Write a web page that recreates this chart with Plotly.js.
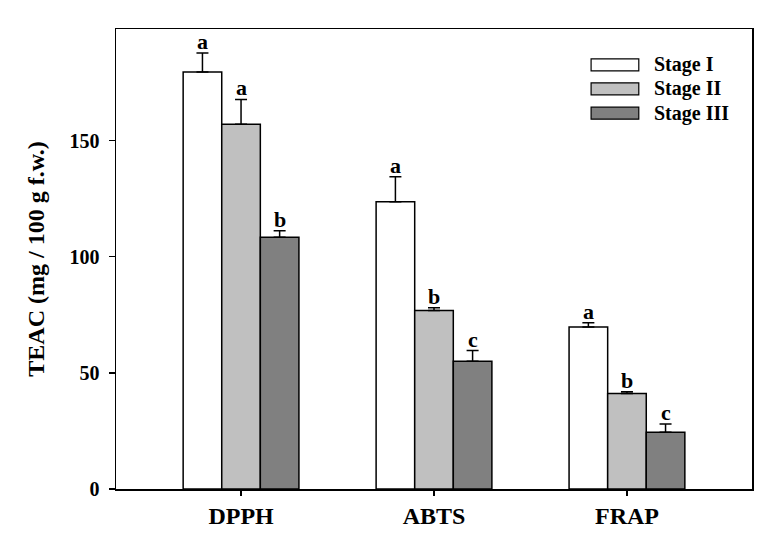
<!DOCTYPE html>
<html>
<head>
<meta charset="utf-8">
<script src="https://cdn.plot.ly/plotly-3.0.1.min.js"></script>
<style>
  html, body { margin: 0; padding: 0; background: #ffffff; }
  #chart { width: 782px; height: 535px; }
</style>
</head>
<body>
<div id="chart"></div>
<script>
  const categories = ["DPPH", "ABTS", "FRAP"];
  const stageNames = ["Stage I", "Stage II", "Stage III"];

  const stage1 = [179.5, 123.6, 69.7];
  const stage2 = [157.0, 76.8, 41.1];
  const stage3 = [108.4, 55.0, 24.4];

  const err1 = [8.2, 10.8, 1.9];
  const err2 = [10.7, 1.2, 0.8];
  const err3 = [2.8, 4.6, 3.6];

  const letters1 = ["a", "a", "a"];
  const letters2 = ["a", "b", "b"];
  const letters3 = ["b", "c", "c"];

  const fills = ["#ffffff", "#c0c0c0", "#808080"];
  const FONT = "Liberation Serif, Times New Roman, serif";

  const values = [stage1, stage2, stage3];
  const errors = [err1, err2, err3];
  const letters = [letters1, letters2, letters3];
  const xIdx = categories.map(function (c, i) { return i; });

  const traces = values.map(function (vals, s) {
    return {
      type: "bar",
      name: stageNames[s],
      x: xIdx,
      y: vals,
      marker: { color: fills[s], line: { color: "#000000", width: 1.5 } },
      error_y: {
        type: "data",
        symmetric: false,
        array: errors[s],
        arrayminus: vals.map(function () { return 0; }),
        color: "#000000",
        thickness: 1.5,
        width: 6
      },
      hoverinfo: "skip"
    };
  });

  const annotations = [];
  values.forEach(function (vals, s) {
    vals.forEach(function (v, i) {
      annotations.push({
        x: i + (s - 1) * 0.2,
        y: v + errors[s][i],
        xref: "x",
        yref: "y",
        text: letters[s][i],
        showarrow: false,
        yanchor: "bottom",
        yshift: -3,
        font: { family: FONT, size: 22, weight: "bold", color: "#000000" }
      });
    });
  });

  // legend drawn by hand so the swatches can be wide boxes
  const legendY = [0.922, 0.870, 0.817];
  const shapes = [];
  stageNames.forEach(function (name, s) {
    shapes.push({
      type: "rect",
      xref: "paper",
      yref: "paper",
      x0: 0.747,
      x1: 0.822,
      y0: legendY[s] - 0.013,
      y1: legendY[s] + 0.013,
      fillcolor: fills[s],
      line: { color: "#000000", width: 1.2 }
    });
    annotations.push({
      xref: "paper",
      yref: "paper",
      x: 0.843,
      y: legendY[s],
      xanchor: "left",
      yanchor: "middle",
      text: name,
      showarrow: false,
      font: { family: FONT, size: 20, weight: "bold", color: "#000000" }
    });
  });

  const layout = {
    width: 782,
    height: 535,
    margin: { l: 116, r: 30, t: 29, b: 46 },
    paper_bgcolor: "#ffffff",
    plot_bgcolor: "#ffffff",
    font: { family: FONT, size: 20, color: "#000000" },
    showlegend: false,
    barmode: "group",
    bargap: 0.4,
    bargroupgap: 0,
    xaxis: {
      type: "linear",
      range: [-0.648, 2.648],
      tickvals: xIdx,
      ticktext: categories,
      ticks: "outside",
      ticklen: 5,
      tickwidth: 1.5,
      tickcolor: "#000000",
      tickfont: { family: FONT, size: 24, weight: "bold", color: "#000000" },
      showgrid: false,
      zeroline: false,
      showline: true,
      linecolor: "#000000",
      linewidth: 1.5,
      mirror: true,
      fixedrange: true
    },
    yaxis: {
      range: [0, 198],
      tickvals: [0, 50, 100, 150],
      ticks: "outside",
      ticklen: 6,
      tickwidth: 1.5,
      tickcolor: "#000000",
      ticklabelstandoff: 5,
      tickfont: { family: FONT, size: 20, weight: "bold", color: "#000000" },
      title: {
        text: "TEAC (mg / 100 g f.w.)",
        font: { family: FONT, size: 24, weight: "bold", color: "#000000" },
        standoff: 18
      },
      showgrid: false,
      zeroline: false,
      showline: true,
      linecolor: "#000000",
      linewidth: 1.5,
      mirror: true,
      fixedrange: true
    },
    annotations: annotations,
    shapes: shapes
  };

  Plotly.newPlot("chart", traces, layout, {
    displayModeBar: false,
    staticPlot: true
  });
</script>
</body>
</html>
